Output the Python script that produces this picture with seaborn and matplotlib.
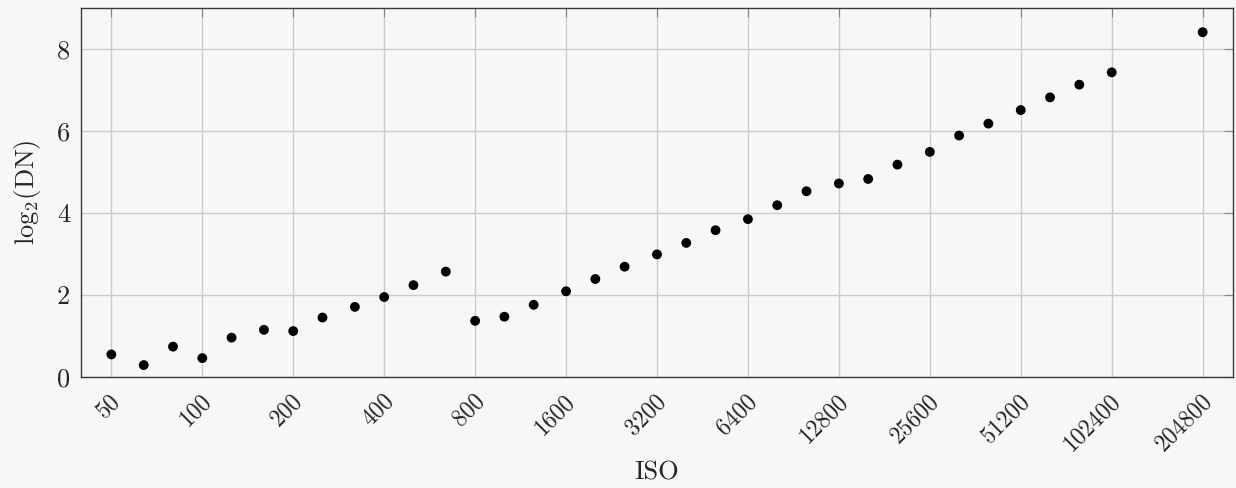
import matplotlib
matplotlib.use("Agg")
import matplotlib.pyplot as plt
import matplotlib.transforms as mtransforms
import seaborn as sns
import pandas as pd
import numpy as np

# ISO settings in third-stop increments, plus the top setting
iso = [50, 64, 80, 100, 125, 160, 200, 250, 320, 400, 500, 640,
       800, 1000, 1250, 1600, 2000, 2500, 3200, 4000, 5000, 6400,
       8000, 10000, 12800, 16000, 20000, 25600, 32000, 40000, 51200,
       64000, 80000, 102400, 204800]
log2_dn = [0.55, 0.29, 0.74, 0.46, 0.96, 1.15, 1.12, 1.45, 1.71, 1.95, 2.24, 2.57,
           1.37, 1.47, 1.76, 2.09, 2.39, 2.69, 2.99, 3.27, 3.58, 3.85,
           4.19, 4.53, 4.72, 4.83, 5.18, 5.49, 5.89, 6.18, 6.51,
           6.82, 7.13, 7.43, 8.41]

x_ticks = [50, 100, 200, 400, 800, 1600, 3200, 6400, 12800, 25600, 51200, 102400, 204800]
y_ticks = [0, 2, 4, 6, 8]

df = pd.DataFrame({"ISO": iso, "log2DN": log2_dn})

sns.set_theme(style="whitegrid")
bg = "#f7f7f7"
plt.rcParams.update({
    "font.family": ["cmr10", "DejaVu Serif"],
    "mathtext.fontset": "cm",
    "axes.formatter.use_mathtext": True,
    "figure.facecolor": bg,
    "axes.facecolor": bg,
})

fig = plt.figure(figsize=(12.36, 4.88), dpi=100)
ax = fig.add_axes([0.0658, 0.2275, 0.9315, 0.7561])

sns.scatterplot(data=df, x="ISO", y="log2DN", ax=ax, color="black",
                s=50, edgecolor="none", zorder=3)

ax.set_xscale("log", base=2)
margin = 0.33
ax.set_xlim(2 ** (np.log2(50) - margin), 2 ** (np.log2(204800) + margin))
ax.set_ylim(0, 9)

ax.set_xticks(x_ticks)
ax.set_xticklabels([str(t) for t in x_ticks], rotation=45, ha="right",
                   va="center", rotation_mode="anchor", fontsize=17)
ax.xaxis.set_minor_locator(matplotlib.ticker.NullLocator())
ax.set_yticks(y_ticks)
ax.set_yticklabels([str(t) for t in y_ticks], fontsize=19)

ax.grid(True, color="#cccccc", linewidth=1.0)
ax.set_axisbelow(True)
for sp in ax.spines.values():
    sp.set_color("#3a3a3a")
    sp.set_linewidth(1.0)
ax.tick_params(axis="both", direction="in", length=6.5, width=0.8,
               color="#888888", top=True, right=True)
ax.tick_params(axis="x", pad=12)
ax.tick_params(axis="y", pad=8)

# nudge the rotated labels so their ends sit just right of each tick
shift = mtransforms.ScaledTranslation(6 / 100, -4 / 100, fig.dpi_scale_trans)
for lbl in ax.get_xticklabels():
    lbl.set_transform(lbl.get_transform() + shift)

ax.set_xlabel("ISO", fontsize=19, labelpad=4)
ax.set_ylabel(r"$\log_2\!(\mathrm{DN})$", fontsize=19, labelpad=10)

fig.savefig("out.png", dpi=100, facecolor=bg)
